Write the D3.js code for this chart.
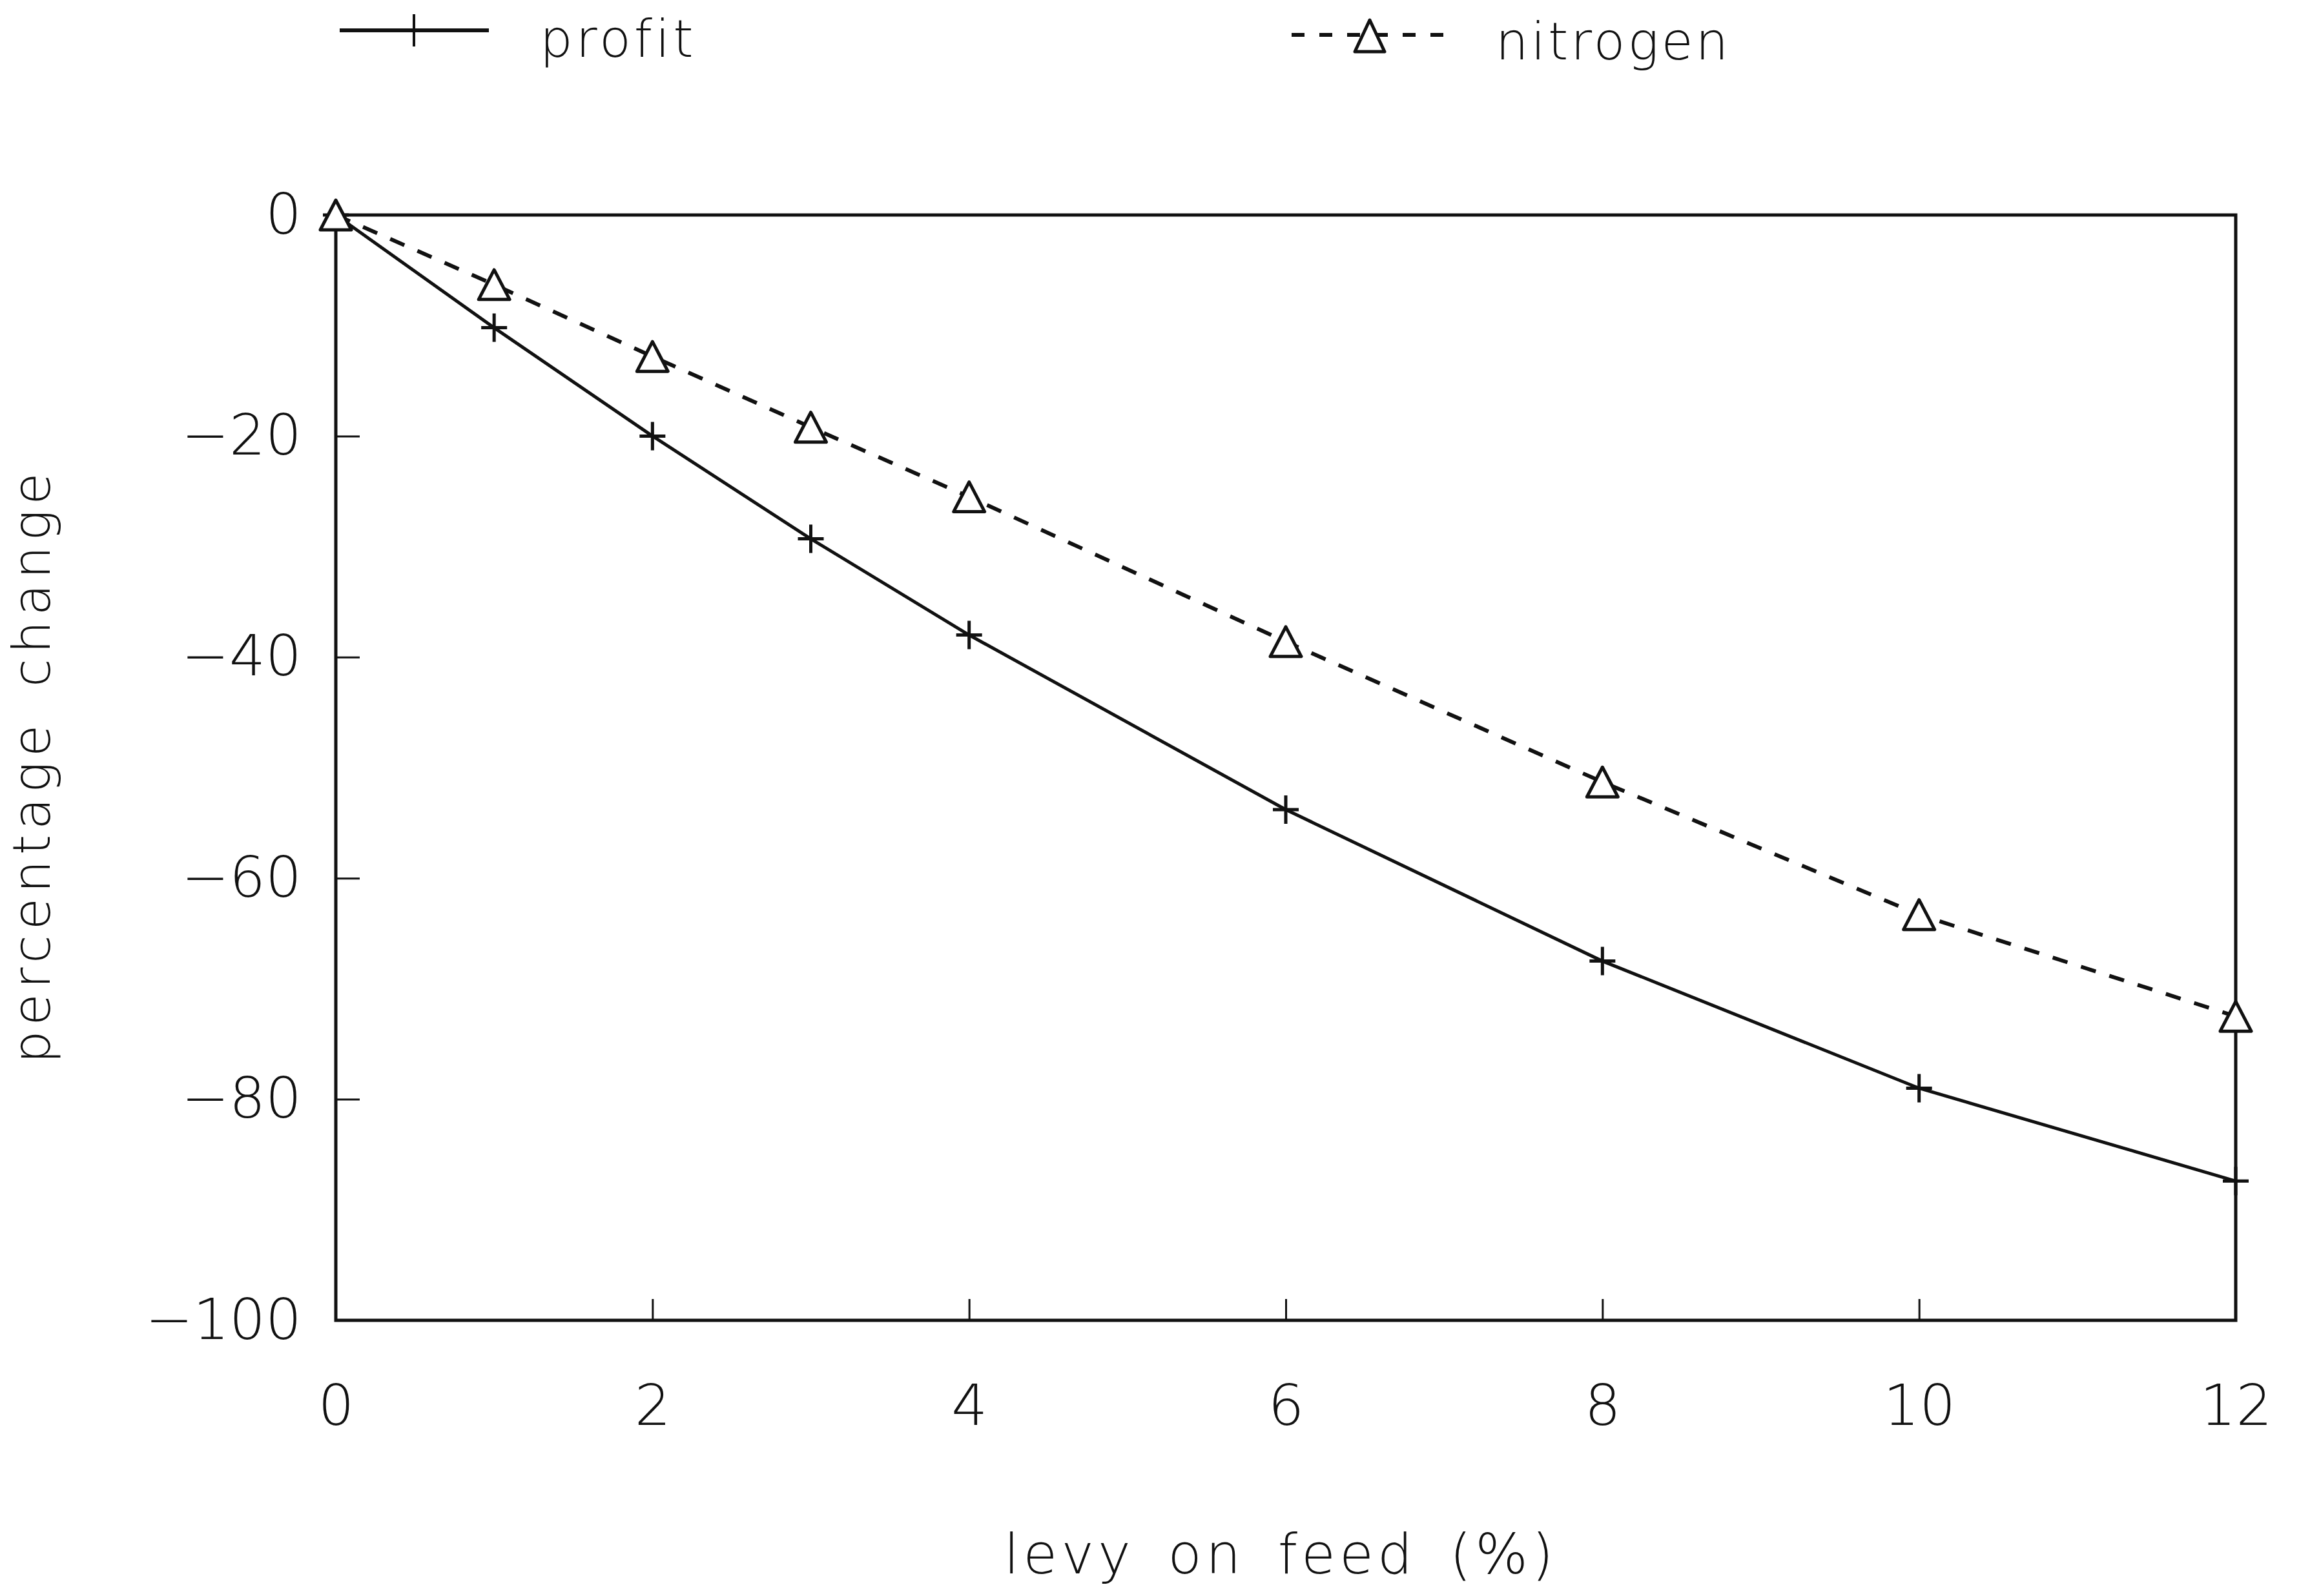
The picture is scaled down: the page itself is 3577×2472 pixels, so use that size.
<!DOCTYPE html>
<html>
<head>
<meta charset="utf-8">
<script src="https://cdn.jsdelivr.net/npm/d3@7"></script>
<style>
  body { margin: 0; background: #fff; }
  text { font-family: "DejaVu Sans", "Liberation Sans", sans-serif; font-weight: 200; fill: #111; }
</style>
</head>
<body>
<script>
var width = 3577;
var height = 2472;

// data
var levy = [0, 1, 2, 3, 4, 6, 8, 10, 12];
var profit = [0, -10.2, -20.0, -29.3, -38.0, -53.8, -67.5, -79.0, -87.4];
var nitrogen = [0, -6.3, -12.8, -19.2, -25.5, -38.6, -51.3, -63.3, -72.5];
var xTicks = [0, 2, 4, 6, 8, 10, 12];
var yTicks = [-100, -80, -60, -40, -20, 0];

var margin = { left: 520, right: 115, top: 333, bottom: 427 };

var svg = d3.select("body")
  .append("svg")
  .attr("width", width)
  .attr("height", height)
  .style("background-color", "#fff");

var x = d3.scaleLinear()
  .domain([0, 12])
  .range([margin.left, width - margin.right]);

var y = d3.scaleLinear()
  .domain([-100, 0])
  .range([height - margin.bottom, margin.top]);

// frame
svg.append("rect")
  .attr("x", x(0))
  .attr("y", y(0))
  .attr("width", x(12) - x(0))
  .attr("height", y(-100) - y(0))
  .attr("fill", "none")
  .attr("stroke", "#111")
  .attr("stroke-width", 5);

// axes, ticks pointing inwards
var xAxis = svg.append("g")
  .attr("transform", "translate(0," + y(-100) + ")")
  .call(d3.axisBottom(x).tickValues(xTicks).tickSizeInner(-33).tickSizeOuter(0).tickPadding(100));

var yAxis = svg.append("g")
  .attr("transform", "translate(" + x(0) + ",0)")
  .call(d3.axisLeft(y).tickValues(yTicks).tickSizeInner(-37).tickSizeOuter(0).tickPadding(53));

[xAxis, yAxis].forEach(function(a) {
  a.select(".domain").remove();
  a.selectAll(".tick line").attr("stroke", "#111").attr("stroke-width", 3);
  a.selectAll(".tick text")
    .attr("fill", "#111")
    .style("font-family", "\"DejaVu Sans\", sans-serif")
    .style("font-weight", 200)
    .style("font-size", "88px");
});

// axis titles
svg.append("text")
  .attr("x", 1983)
  .attr("y", 2437)
  .attr("text-anchor", "middle")
  .style("font-size", "86px")
  .style("letter-spacing", "6px")
  .style("word-spacing", "18px")
  .text("levy on feed (%)");

svg.append("text")
  .attr("transform", "translate(77,1186) rotate(-90)")
  .attr("text-anchor", "middle")
  .style("font-size", "80px")
  .style("letter-spacing", "8px")
  .style("word-spacing", "17px")
  .text("percentage change");

// lines
var profitLine = d3.line()
  .x(function(d, i) { return x(levy[i]); })
  .y(function(d) { return y(d); });

svg.append("path")
  .datum(profit)
  .attr("d", profitLine)
  .attr("fill", "none")
  .attr("stroke", "#111")
  .attr("stroke-width", 5);

svg.append("path")
  .datum(nitrogen)
  .attr("d", profitLine)
  .attr("fill", "none")
  .attr("stroke", "#111")
  .attr("stroke-width", 6)
  .attr("stroke-dasharray", "24,22");

// markers
var plusPath = "M-20,0H20M0,-22V22";
var triPath = "M0,-23L24,23L-24,23Z";

svg.append("g")
  .selectAll("path")
  .data(profit)
  .enter().append("path")
    .attr("d", plusPath)
    .attr("transform", function(d, i) { return "translate(" + x(levy[i]) + "," + y(d) + ")"; })
    .attr("fill", "none")
    .attr("stroke", "#111")
    .attr("stroke-width", 5);

svg.append("g")
  .selectAll("path")
  .data(nitrogen)
  .enter().append("path")
    .attr("d", triPath)
    .attr("transform", function(d, i) { return "translate(" + x(levy[i]) + "," + y(d) + ")"; })
    .attr("fill", "#fff")
    .attr("stroke", "#111")
    .attr("stroke-width", 5)
    .attr("stroke-linejoin", "round");

// legend
var legend = svg.append("g");

legend.append("line")
  .attr("x1", 526).attr("x2", 757)
  .attr("y1", 47).attr("y2", 47)
  .attr("stroke", "#111")
  .attr("stroke-width", 6);
legend.append("path")
  .attr("d", "M0,-25V25")
  .attr("transform", "translate(641,47)")
  .attr("stroke", "#111")
  .attr("stroke-width", 4);
legend.append("text")
  .attr("x", 836)
  .attr("y", 88)
  .style("font-size", "80px")
  .style("letter-spacing", "5px")
  .text("profit");

legend.append("line")
  .attr("x1", 2000).attr("x2", 2242)
  .attr("y1", 54).attr("y2", 54)
  .attr("stroke", "#111")
  .attr("stroke-width", 6)
  .attr("stroke-dasharray", "20,23");
legend.append("path")
  .attr("d", "M0,-25L23,24L-23,24Z")
  .attr("transform", "translate(2121,56)")
  .attr("fill", "#fff")
  .attr("stroke", "#111")
  .attr("stroke-width", 5)
  .attr("stroke-linejoin", "round");
legend.append("text")
  .attr("x", 2316)
  .attr("y", 92)
  .style("font-size", "80px")
  .style("letter-spacing", "4px")
  .text("nitrogen");
</script>
</body>
</html>
